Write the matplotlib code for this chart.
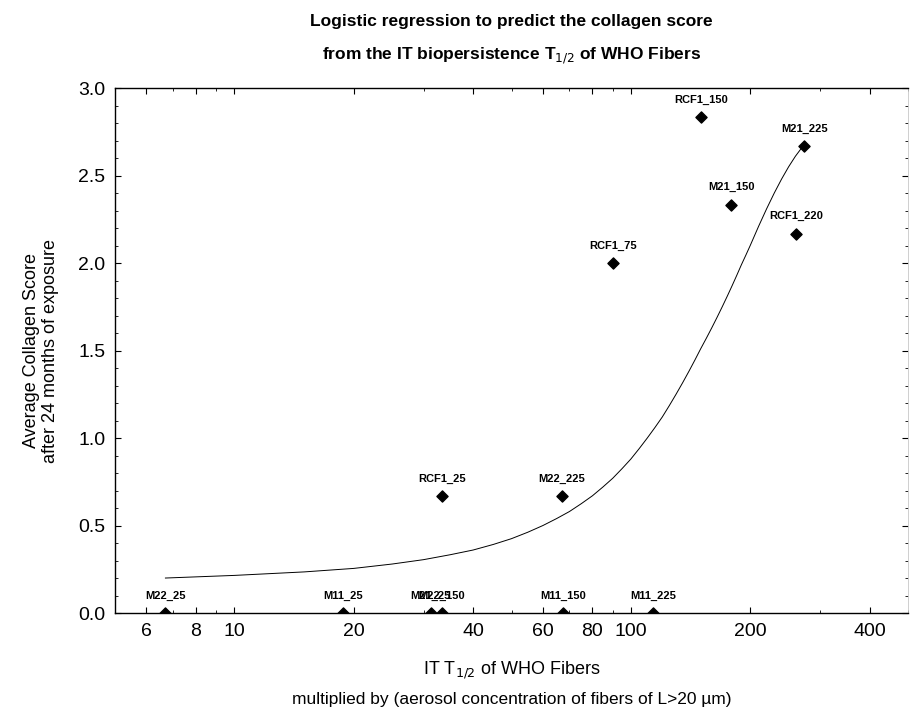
import matplotlib as mpl
mpl.use("Agg")
import matplotlib.pyplot as plt
from matplotlib.ticker import FixedLocator, NullFormatter, MultipleLocator

plt.rcParams['font.family'] = ['Liberation Sans', 'DejaVu Sans']

# Fibers (label, x value, average collagen score)
fiber_labels = ["M22_25", "M11_25", "M21_25", "M22_150", "M11_150", "M11_225",
                "RCF1_25", "M22_225", "RCF1_75", "RCF1_150", "M21_150",
                "RCF1_220", "M21_225"]
fiber_x = [6.7, 18.8, 31.3, 33.4, 67.5, 114,
           33.4, 67, 90, 150, 179, 261, 274]
fiber_score = [0.0, 0.0, 0.0, 0.0, 0.0, 0.0,
               0.667, 0.667, 2.0, 2.833, 2.333, 2.167, 2.667]

# fitted logistic curve
curve_x = [6.7, 10, 15, 20, 25, 30, 35, 40, 45, 50, 55, 60, 65, 70, 75, 80,
           85, 90, 95, 100, 105, 110, 115, 120, 125, 130, 135, 140, 145, 150,
           155, 160, 165, 170, 175, 180, 185, 190, 195, 200, 210, 220, 230,
           240, 250, 260, 267, 274]
curve_y = [0.20, 0.215, 0.235, 0.255, 0.28, 0.305, 0.333, 0.36, 0.392, 0.425,
           0.462, 0.50, 0.54, 0.58, 0.625, 0.67, 0.72, 0.77, 0.825, 0.88,
           0.94, 1.00, 1.06, 1.12, 1.185, 1.25, 1.315, 1.38, 1.445, 1.51,
           1.57, 1.63, 1.69, 1.75, 1.81, 1.87, 1.93, 1.99, 2.045, 2.10, 2.21,
           2.31, 2.40, 2.48, 2.55, 2.61, 2.645, 2.68]

x_ticks = [6, 8, 10, 20, 40, 60, 80, 100, 200, 400]
x_minor = [5, 7, 9, 30, 50, 70, 90, 300, 500]


def main():

	fig = plt.figure(figsize=(9.1, 7.12), dpi=100)
	ax = fig.add_axes([0.1264, 0.1390, 0.8714, 0.7374])

	ax.plot(curve_x, curve_y, color="black", lw=0.7)
	ax.scatter(fiber_x, fiber_score, marker="D", s=32, color="black", zorder=3)

	for lab, x, y in zip(fiber_labels, fiber_x, fiber_score):
		ax.annotate(lab, (x, y), xytext=(0, 9), textcoords="offset points",
		            ha="center", va="bottom", fontsize=8, fontweight="bold")
	#end_for

	ax.set_xscale("log")
	ax.set_xlim(5, 500)
	ax.set_ylim(0, 3.0)

	ax.xaxis.set_major_locator(FixedLocator(x_ticks))
	ax.xaxis.set_major_formatter(mpl.ticker.FixedFormatter([str(t) for t in x_ticks]))
	ax.xaxis.set_minor_locator(FixedLocator(x_minor))
	ax.xaxis.set_minor_formatter(NullFormatter())
	ax.yaxis.set_major_locator(MultipleLocator(0.5))
	ax.yaxis.set_minor_locator(MultipleLocator(0.1))
	ax.yaxis.set_major_formatter(mpl.ticker.FormatStrFormatter("%.1f"))

	ax.tick_params(which="both", direction="in", top=True, right=True,
	               labelsize=14, pad=7)
	ax.tick_params(which="major", length=4, width=0.8)
	ax.tick_params(which="minor", length=2.5, width=0.6)

	for side in ["left", "bottom", "top"]:
		ax.spines[side].set_linewidth(1.0)
	#end_for
	ax.spines["right"].set_color("#c8c8c8")
	ax.spines["right"].set_linewidth(0.6)

	ax.set_ylabel("Average Collagen Score\nafter 24 months of exposure",
	              fontsize=13, linespacing=1.15, labelpad=14)
	ax.set_xlabel("IT T$_{1/2}$ of WHO Fibers", fontsize=13, labelpad=14)
	fig.text(0.562, 0.007, "multiplied by (aerosol concentration of fibers of L>20 \u00b5m)",
	         ha="center", va="bottom", fontsize=12.5)

	fig.text(0.562, 0.980, "Logistic regression to predict the collagen score",
	         ha="center", va="top", fontsize=12.5, fontweight="bold")
	fig.text(0.562, 0.936, "from the IT biopersistence T$_{1/2}$ of WHO Fibers",
	         ha="center", va="top", fontsize=12.5, fontweight="bold")

	fig.savefig("out.png", dpi=100)

#end_def


main()
